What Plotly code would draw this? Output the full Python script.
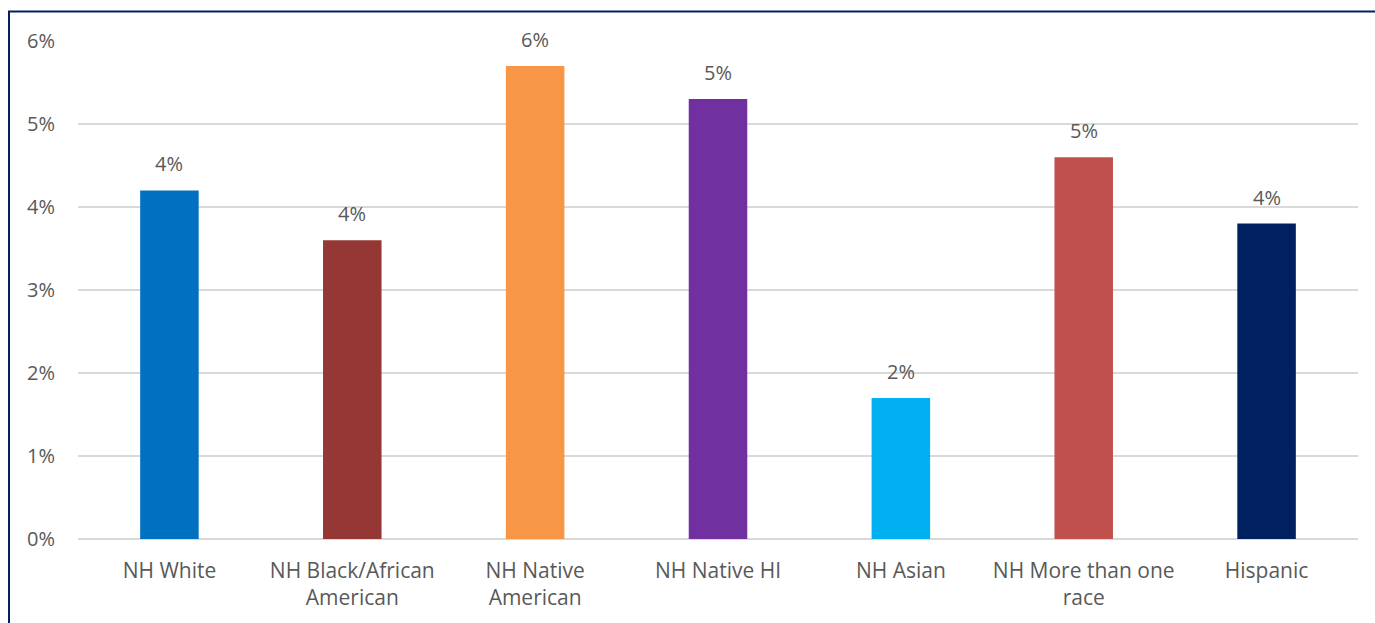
import plotly.graph_objects as go

categories = ["NH White", "NH Black/African<br>American", "NH Native<br>American", "NH Native HI",
              "NH Asian", "NH More than one<br>race", "Hispanic"]
values = [0.042, 0.036, 0.057, 0.053, 0.017, 0.046, 0.038]
colors = ["#0070C0", "#953735", "#F79646", "#7030A0", "#00B0F0", "#C0504D", "#002060"]
y_ticks = [0, 0.01, 0.02, 0.03, 0.04, 0.05, 0.06]

FONT = "Open Sans"
TXT = "#595959"

fig = go.Figure()
fig.add_trace(go.Bar(x=categories, y=values, marker=dict(color=colors, line=dict(width=0)),
                     width=0.32, hoverinfo="skip"))

for c, v in zip(categories, values):
    fig.add_annotation(x=c, y=v, text=f"{round(v*100):d}%", showarrow=False,
                       yanchor="bottom", yshift=11, font=dict(family=FONT, size=20, color=TXT))

fig.update_layout(
    width=1375, height=623,
    margin=dict(l=78, r=17, t=41, b=84),
    paper_bgcolor="white", plot_bgcolor="white",
    showlegend=False,
    font=dict(family=FONT, size=20, color=TXT),
    bargap=0.68,
    xaxis=dict(showgrid=False, showline=False, zeroline=False, ticks="",
               tickfont=dict(family=FONT, size=21, color=TXT), ticklabelstandoff=17),
    yaxis=dict(range=[0, 0.06], tickvals=y_ticks, tickformat=".0%", showgrid=True,
               gridcolor="#D9D9D9", gridwidth=1.5, zeroline=True, zerolinecolor="#D9D9D9",
               zerolinewidth=1.5, showline=False, ticks="",
               tickfont=dict(family=FONT, size=20, color=TXT), ticklabelstandoff=22),
)

# outer frame (partially cropped)
fig.add_shape(type="rect", xref="paper", yref="paper",
              x0=(9 - 78) / 1280, x1=(1390 - 78) / 1280,
              y0=(539 - 640) / 498, y1=(539 - 11.5) / 498,
              line=dict(color="#002060", width=2), fillcolor="rgba(0,0,0,0)", layer="above")

fig.write_html("out.html")
